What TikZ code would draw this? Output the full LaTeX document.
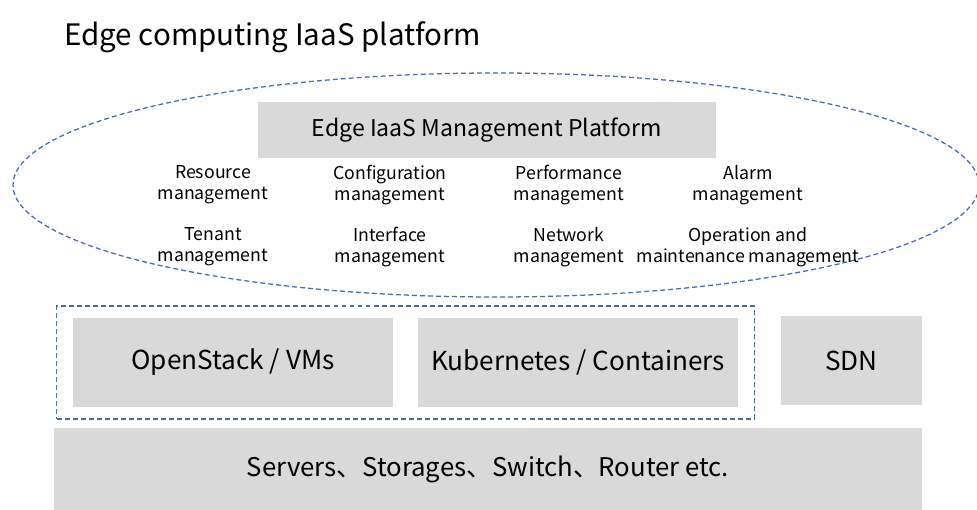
\documentclass[tikz,border=0pt]{standalone}
\usepackage{fontspec}
\setmainfont{Noto Sans CJK SC}
\usepackage{xcolor}
\usepackage{tikz}
\usetikzlibrary{shapes.geometric, positioning, fit, backgrounds}
\definecolor{boxgray}{RGB}{217, 217, 217}
\definecolor{dashblue}{RGB}{72, 108, 170}

\begin{document}
\begin{tikzpicture}[
    x=0.025cm, y=-0.025cm,
    layer/.style={fill=boxgray, draw=none, inner sep=0pt, font=\fontsize{18.6}{22}\selectfont},
    func/.style={align=center, inner sep=0pt, font=\fontsize{12.6}{15}\selectfont},
    dashline/.style={draw=dashblue, line width=0.9pt, dash pattern=on 3.5pt off 2.2pt}
]
    \useasboundingbox (0,0) rectangle (977,510);

    % title
    \node[anchor=west, inner sep=0pt, font=\fontsize{21}{25}\selectfont] (title) at (64,37) {Edge computing IaaS platform};

    % management platform
    \draw[dashline] (496,185) ellipse [x radius=483, y radius=112];
    \node[layer, minimum width=11.45cm, minimum height=1.4cm, font=\fontsize{16.4}{19}\selectfont] (mgmt) at (487,130) {Edge IaaS Management Platform};

    \node[func] (resource) at (213,185) {Resource\\management};
    \node[func] (config) at (390,185) {Configuration\\management};
    \node[func] (perf) at (569,185) {Performance\\management};
    \node[func] (alarm) at (748,185) {Alarm\\management};
    \node[func] (tenant) at (213,247) {Tenant\\management};
    \node[func] (iface) at (390,247) {Interface\\management};
    \node[func] (network) at (569,247) {Network\\management};
    \node[func] (oam) at (748,247) {Operation and\\maintenance management};

    % virtualization layer
    \node[layer, minimum width=8cm, minimum height=2.225cm] (openstack) at (233,362.5) {OpenStack / VMs};
    \node[layer, minimum width=8cm, minimum height=2.225cm] (k8s) at (578,362.5) {Kubernetes / Containers};
    \node[layer, minimum width=3.525cm, minimum height=2.225cm] (sdn) at (851.5,360.5) {SDN};
    \node[dashline, fit=(openstack) (k8s), inner xsep=0.4cm, inner ysep=0.29cm] (virt) {};

    % hardware
    \node[layer, minimum width=21.7cm, minimum height=2.05cm, font=\fontsize{18.3}{22}\selectfont] (hw) at (488,469) {Servers、Storages、Switch、Router etc.};
\end{tikzpicture}
\end{document}
